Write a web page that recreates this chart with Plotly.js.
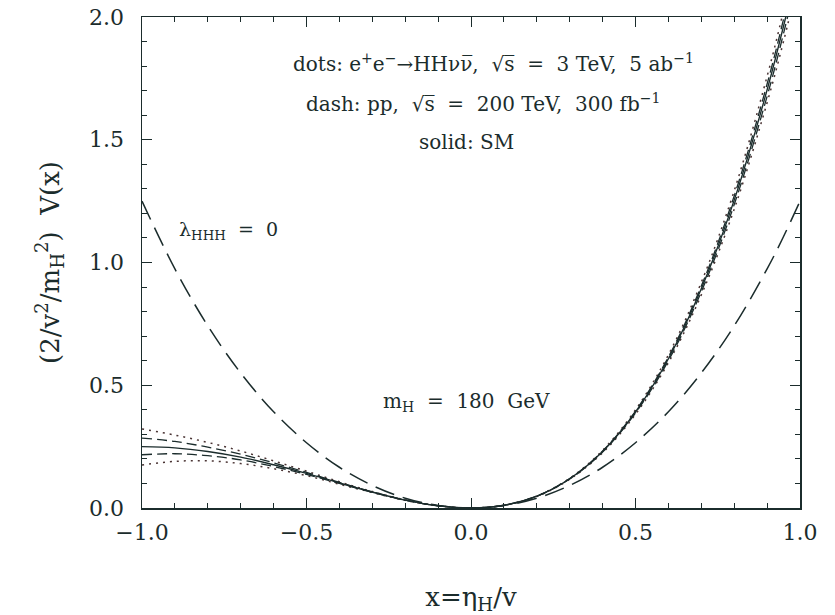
<!DOCTYPE html>
<html>
<head>
<meta charset="utf-8">
<script src="https://cdn.plot.ly/plotly-3.0.1.min.js"></script>
<style>html,body{margin:0;padding:0;background:#fff;}</style>
</head>
<body>
<div id="chart" style="width:835px;height:615px;"></div>
<script>
// x grid (x = eta_H / v)
const xs = [-1.0,-0.9,-0.8,-0.7,-0.6,-0.5,-0.4,-0.3,-0.2,-0.1,0.0,0.1,0.2,0.3,0.4,0.5,0.6,0.7,0.8,0.9,0.95,1.0];
// SM potential (solid)
const smV = [0.250,0.245,0.230,0.207,0.176,0.141,0.102,0.065,0.032,0.009,0.000,0.011,0.048,0.119,0.230,0.391,0.608,0.893,1.254,1.703,1.963,2.250];
// lambda_HHH = 0 (long dash)
const lam0V = [1.250,0.974,0.742,0.550,0.392,0.266,0.166,0.092,0.040,0.010,0.000,0.010,0.040,0.092,0.166,0.266,0.392,0.550,0.742,0.974,1.106,1.250];
// pp 200 TeV band (dash)
const ppLow  = [0.217,0.221,0.213,0.196,0.169,0.137,0.100,0.064,0.032,0.009,0.000,0.011,0.048,0.120,0.232,0.395,0.615,0.904,1.271,1.727,1.991,2.280];
const ppHigh = [0.285,0.271,0.248,0.219,0.184,0.145,0.104,0.066,0.032,0.009,0.000,0.011,0.048,0.118,0.228,0.387,0.600,0.881,1.236,1.677,1.933,2.215];
// e+e- 3 TeV band (dots)
const eeLow  = [0.175,0.190,0.192,0.181,0.160,0.132,0.097,0.063,0.031,0.009,0.000,0.011,0.049,0.121,0.235,0.400,0.624,0.919,1.292,1.758,2.027,2.330];
const eeHigh = [0.322,0.297,0.267,0.232,0.192,0.150,0.107,0.067,0.033,0.009,0.000,0.011,0.047,0.117,0.225,0.382,0.592,0.868,1.217,1.651,1.901,2.180];

const ink = '#1b2c2c';
const dotCol = '#4a3434';
const fontFam = '"DejaVu Serif", "Liberation Serif", serif';

function tr(y, dash, color, w) {
  return {x: xs, y: y, mode: 'lines', type: 'scatter',
          line: {color: color, width: w, dash: dash, shape: 'spline', smoothing: 1},
          hoverinfo: 'skip', showlegend: false};
}

const data = [
  tr(eeLow, '2px,5px', dotCol, 1.5),
  tr(eeHigh, '2px,5px', dotCol, 1.5),
  tr(ppLow, '10px,5px', ink, 1.3),
  tr(ppHigh, '10px,5px', ink, 1.3),
  tr(lam0V, '20px,9px', ink, 1.5),
  tr(smV, 'solid', ink, 1.4),
  {x: [], y: [], xaxis: 'x2', yaxis: 'y2', type: 'scatter', mode: 'lines', showlegend: false}
];

const tickFont = {family: fontFam, size: 22, color: ink};
const minorX = {dtick: 0.1, ticks: 'inside', ticklen: 5, tickwidth: 1, tickcolor: ink, showgrid: false};

const layout = {
  width: 835, height: 615,
  margin: {l: 142, r: 35, t: 17, b: 107},
  paper_bgcolor: '#fff', plot_bgcolor: '#fff',
  font: {family: fontFam, color: ink},
  showlegend: false,
  xaxis: {
    range: [-1, 1], dtick: 0.5, tick0: 0, tickformat: '.1f',
    ticks: 'inside', ticklen: 10, tickwidth: 1, tickcolor: ink,
    minor: minorX,
    showline: true, linecolor: ink, linewidth: 1.5,
    showgrid: false, zeroline: false,
    tickfont: tickFont, ticklabelstandoff: 4,
    title: {text: 'x=η<sub>H</sub>/v', font: {family: fontFam, size: 26, color: ink}, standoff: 44}
  },
  yaxis: {
    range: [0, 2], dtick: 0.5, tick0: 0, tickformat: '.1f',
    ticks: 'inside', ticklen: 10, tickwidth: 1, tickcolor: ink,
    minor: {dtick: 0.1, ticks: 'inside', ticklen: 5, tickwidth: 1, tickcolor: ink, showgrid: false},
    showline: true, linecolor: ink, linewidth: 1.5,
    showgrid: false, zeroline: false,
    tickfont: tickFont, ticklabelstandoff: 12,
    title: {text: '(2/v<sup>2</sup>/m<sub>H</sub><sup>2</sup>)  V(x)', font: {family: fontFam, size: 26, color: ink}, standoff: 22}
  },
  xaxis2: {
    overlaying: 'x', side: 'top', anchor: 'y2', range: [-1, 1], dtick: 0.5, tick0: 0,
    ticks: 'inside', ticklen: 10, tickwidth: 1, tickcolor: ink,
    minor: minorX,
    showline: true, linecolor: ink, linewidth: 1.5,
    showgrid: false, zeroline: false, showticklabels: false
  },
  yaxis2: {
    overlaying: 'y', side: 'right', anchor: 'x2', range: [0, 2], dtick: 0.5, tick0: 0,
    ticks: 'inside', ticklen: 10, tickwidth: 1, tickcolor: ink,
    minor: {dtick: 0.1, ticks: 'inside', ticklen: 5, tickwidth: 1, tickcolor: ink, showgrid: false},
    showline: true, linecolor: ink, linewidth: 1.5,
    showgrid: false, zeroline: false, showticklabels: false
  },
  annotations: [
    {x: 0.067, y: 1.813, xref: 'x', yref: 'y', showarrow: false, xanchor: 'center', yanchor: 'middle',
     text: 'dots: e<sup>+</sup>e<sup>−</sup>→HHνν̅,  √s̅  =  3 TeV,  5 ab<sup>−1</sup>',
     font: {family: fontFam, size: 20, color: ink}},
    {x: 0.035, y: 1.650, xref: 'x', yref: 'y', showarrow: false, xanchor: 'center', yanchor: 'middle',
     text: 'dash: pp,  √s̅  =  200 TeV,  300 fb<sup>−1</sup>',
     font: {family: fontFam, size: 20, color: ink}},
    {x: -0.015, y: 1.491, xref: 'x', yref: 'y', showarrow: false, xanchor: 'center', yanchor: 'middle',
     text: 'solid: SM',
     font: {family: fontFam, size: 20, color: ink}},
    {x: -0.894, y: 1.132, xref: 'x', yref: 'y', showarrow: false, xanchor: 'left', yanchor: 'middle',
     text: 'λ<sub>HHH</sub>  =  0',
     font: {family: fontFam, size: 19, color: ink}},
    {x: -0.015, y: 0.432, xref: 'x', yref: 'y', showarrow: false, xanchor: 'center', yanchor: 'middle',
     text: 'm<sub>H</sub>  =  180  GeV',
     font: {family: fontFam, size: 20, color: ink}}
  ]
};

Plotly.newPlot('chart', data, layout, {displayModeBar: false, staticPlot: true});
</script>
</body>
</html>
